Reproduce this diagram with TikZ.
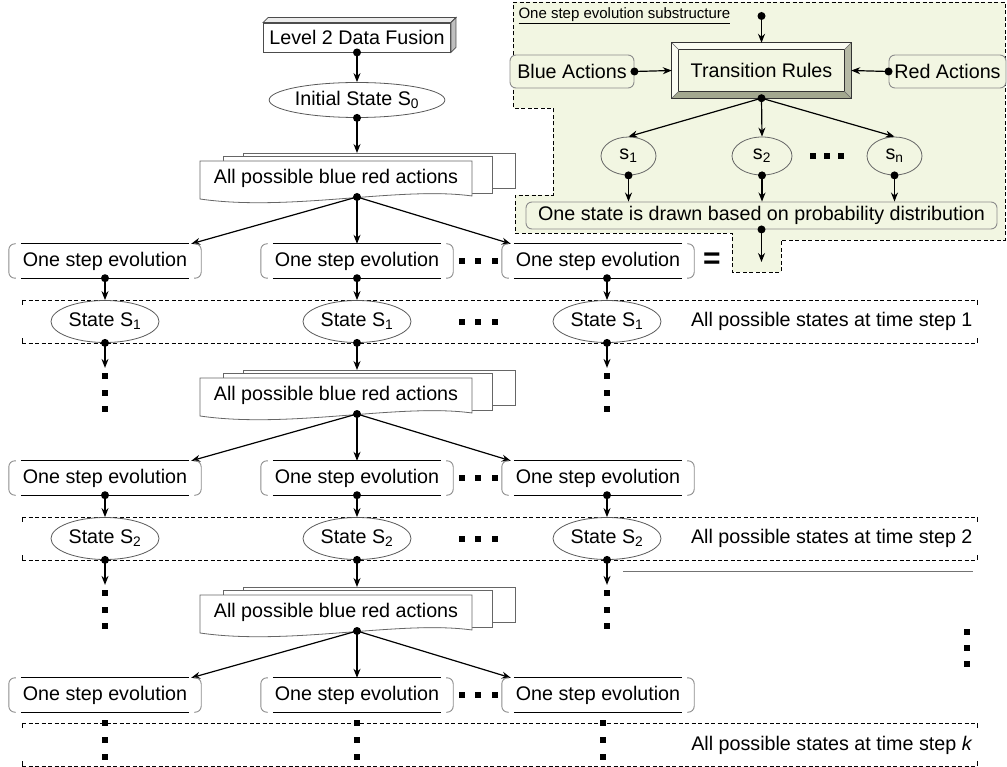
\documentclass[tikz,border=0pt]{standalone}
\usepackage{fontspec}
\setmainfont{Liberation Sans}
\usetikzlibrary{arrows.meta,shapes.geometric,calc}

\definecolor{panelgreen}{HTML}{F2F6E2}
\definecolor{bevellight}{HTML}{FAFCF2}
\definecolor{beveldark}{HTML}{A3A88F}

\newcommand{\sqdot}[2]{\fill (#1-2.6,#2-2.6) rectangle (#1+2.6,#2+2.6);}

\tikzset{
  link/.style={-{Stealth[length=9pt,width=7pt]},line width=1.2pt},
  tail/.style={circle,fill,inner sep=0pt,minimum size=8pt},
  evo/.style={minimum width=192pt,minimum height=34pt,inner sep=0pt},
  bracketline/.style={draw=black!45,line width=0.9pt,rounded corners=6pt},
  evoline/.style={line width=1pt},
  state/.style={ellipse,draw=black!65,line width=0.8pt,minimum width=108pt,minimum height=42pt,inner sep=0pt},
  page/.style={draw=black!60,fill=white,line width=0.8pt},
  rowline/.style={line width=0.7pt,dash pattern=on 4pt off 2.5pt},
  pbox/.style={draw=black!45,fill=panelgreen,rounded corners=6pt,line width=0.9pt,inner sep=0pt},
  pstate/.style={ellipse,draw=black!60,fill=panelgreen,line width=0.8pt,minimum height=38pt,inner sep=0pt},
}

\begin{document}
\begin{tikzpicture}[x=1pt,y=-1pt,font=\fontsize{19.7}{23}\selectfont]
  \useasboundingbox (0,0) rectangle (1007,767);

  % one step evolution substructure
  \filldraw[fill=panelgreen,rowline] (513,2) -- (1005,2) -- (1005,240) -- (781,240)
    -- (781,272) -- (732,272) -- (732,233) -- (515,233) -- (515,195) -- (553,195)
    -- (553,108) -- (513,108) -- cycle;
  \node[anchor=west,font=\fontsize{15}{18}\selectfont] (ptitle) at (515,16)
    {\underline{One step evolution substructure}};
  \node[minimum width=179pt,minimum height=55pt,inner sep=0pt] (rules) at (761.5,70.5) {Transition Rules};
  \fill[bevellight] (rules.north west) -- (rules.north east) -- ($(rules.north east)+(-7,7)$)
    -- ($(rules.north west)+(7,7)$) -- cycle;
  \fill[bevellight] (rules.north west) -- (rules.south west) -- ($(rules.south west)+(7,-7)$)
    -- ($(rules.north west)+(7,7)$) -- cycle;
  \fill[beveldark] (rules.south west) -- (rules.south east) -- ($(rules.south east)+(-7,-7)$)
    -- ($(rules.south west)+(7,-7)$) -- cycle;
  \fill[beveldark!80] (rules.north east) -- (rules.south east) -- ($(rules.south east)+(-7,-7)$)
    -- ($(rules.north east)+(-7,7)$) -- cycle;
  \draw[black!80,line width=0.9pt] (rules.north west) rectangle (rules.south east)
    ($(rules.north west)+(7,7)$) rectangle ($(rules.south east)+(-7,-7)$);
  \draw[black!60,line width=0.6pt] (rules.north west) -- ++(7,7) (rules.north east) -- ++(-7,7)
    (rules.south west) -- ++(7,-7) (rules.south east) -- ++(-7,-7);
  \node[pbox,minimum width=124pt,minimum height=33pt] (blue) at (572,71.5) {Blue Actions};
  \node[pbox,minimum width=117pt,minimum height=33pt] (red) at (947.5,71.5) {Red Actions};
  \node[pstate,minimum width=55pt] (s1) at (628.5,156) {s\textsubscript{1}};
  \node[pstate,minimum width=60pt] (s2) at (762,156) {s\textsubscript{2}};
  \node[pstate,minimum width=55pt] (sn) at (894.5,156) {s\textsubscript{n}};
  \node[pbox,minimum width=471pt,minimum height=27pt] (drawn) at (761.5,215.5)
    {One state is drawn based on probability distribution};
  \coordinate (pout) at (761.5,262);
  \foreach \x in {813,827,841} {\sqdot{\x}{156}}

  \node[tail] (tp) at (761.5,16) {};
  \draw[link] (tp.center) -- (rules.north);
  \node[tail] (tb) at (blue.east) {};
  \draw[link] (tb.center) -- (rules.west);
  \node[tail] (tr) at (red.west) {};
  \draw[link] (tr.center) -- (rules.east);
  \node[tail] (trs) at (rules.south) {};
  \foreach \s in {s1,s2,sn} \draw[link] (trs.center) -- (\s.north);
  \foreach \s in {s1,s2,sn}{
    \node[tail] (t\s) at (\s.south) {};
    \draw[link] (t\s.center) -- (t\s |- drawn.north);
  }
  \node[tail] (td) at (drawn.south) {};
  \draw[link] (td.center) -- (pout);

  % main flow
  \node[draw=black!70,fill=white,line width=0.9pt,minimum width=187pt,minimum height=29pt,
    inner sep=0pt] (fusion) at (357,37.5) {Level 2 Data Fusion};
  \filldraw[fill=black!8,draw=black!70,line width=0.8pt] (fusion.north west) -- ++(5,-5)
    -- ($(fusion.north east)+(5,-5)$) -- (fusion.north east) -- cycle;
  \filldraw[fill=black!25,draw=black!70,line width=0.8pt] (fusion.north east) -- ++(5,-5)
    -- ($(fusion.south east)+(5,-5)$) -- (fusion.south east) -- cycle;
  \node[state,minimum width=174pt,minimum height=35pt] (init) at (357,100) {Initial State S\textsubscript{0}};
  \node[tail] (tf) at (fusion.south) {};
  \draw[link] (tf.center) -- (init);
  \node[tail] (ti) at (init.south) {};

  \foreach \r in {1,2,3}{
    \pgfmathsetmacro{\oy}{(\r-1)*217}
    \filldraw[page] (243,{153+\oy}) rectangle (515,{188+\oy});
    \filldraw[page] (223,{156+\oy}) rectangle (492,{193+\oy});
    \filldraw[page] (200,{161+\oy}) -- (472,{161+\oy}) -- (472,{196+\oy})
      .. controls (400,{186+\oy}) and (290,{212+\oy}) .. (200,{199+\oy}) -- cycle;
    \node[minimum width=272pt,minimum height=37pt,inner sep=0pt] (act\r) at (336,{178+\oy})
      {All possible blue red actions};
    \coordinate (top\r) at (357,{153+\oy});
    \node[tail] (ta\r) at (357,{197+\oy}) {};
    \node[evo] (ea\r) at (105,{261+\oy}) {One step evolution};
    \node[evo] (eb\r) at (357,{261+\oy}) {One step evolution};
    \node[evo] (ec\r) at (598,{261+\oy}) {One step evolution};
    \draw[link] (ta\r.center) -- ($(ea\r.north east)+(-10,0)$);
    \draw[link] (ta\r.center) -- (eb\r.north);
    \draw[link] (ta\r.center) -- ($(ec\r.north west)+(9,0)$);
    \foreach \x in {462,478,495} {\sqdot{\x}{261+\oy}}
  }
  \draw[link] (ti.center) -- (top1);

  \foreach \n in {ea1,eb1,ec1,ea2,eb2,ec2,ea3,eb3,ec3}{
    \draw[bracketline] ($(\n.north west)+(7,0)$) -- (\n.north west) -- (\n.south west)
      -- ($(\n.south west)+(7,0)$);
    \draw[bracketline] ($(\n.north east)+(-7,0)$) -- (\n.north east) -- (\n.south east)
      -- ($(\n.south east)+(-7,0)$);
    \draw[evoline] ($(\n.north west)+(12,0)$) -- ($(\n.north east)+(-12,0)$)
      ($(\n.south west)+(12,0)$) -- ($(\n.south east)+(-12,0)$);
  }
  \node[font=\fontsize{30}{30}\selectfont\bfseries] (eq) at (712,261) {=};

  % states at each time step
  \foreach \r in {1,2}{
    \pgfmathsetmacro{\oy}{(\r-1)*217}
    \pgfmathtruncatemacro{\nx}{\r+1}
    \draw[rowline] (22,{300+\oy}) -- (977,{300+\oy}) (22,{343+\oy}) -- (977,{343+\oy});
    \draw[line width=0.7pt] (22,{300+\oy}) -- ++(0,5) (22,{343+\oy}) -- ++(0,-5)
      (977,{300+\oy}) -- ++(0,5) (977,{343+\oy}) -- ++(0,-5);
    \node[state] (sa\r) at (105,{321.5+\oy}) {State S\textsubscript{\r}};
    \node[state] (sb\r) at (357,{321.5+\oy}) {State S\textsubscript{\r}};
    \node[state] (sc\r) at (607,{321.5+\oy}) {State S\textsubscript{\r}};
    \node[anchor=east] (lbl\r) at (976,{321.5+\oy}) {All possible states at time step \r};
    \foreach \x in {462,478,495} {\sqdot{\x}{322+\oy}}
    \foreach \c in {a,b,c}{
      \node[tail] (u\c\r) at (e\c\r.south -| s\c\r) {};
      \draw[link] (u\c\r.center) -- (s\c\r);
      \node[tail] (v\c\r) at (s\c\r.south) {};
    }
    \draw[link] (vb\r.center) -- (top\nx);
    \foreach \c in {a,c}{
      \coordinate (f\c\r) at ($(s\c\r.south)+(0,25)$);
      \draw[link] (v\c\r.center) -- (f\c\r);
    }
    \foreach \y in {33,50,66} {\sqdot{105}{343+\oy+\y} \sqdot{607}{343+\oy+\y}}
  }
  \draw[black!55,line width=0.9pt] (623,571) -- (973,571);
  \foreach \y in {632,648,664} {\sqdot{967}{\y}}

  % time step k
  \draw[rowline] (22,723) -- (977,723) (22,766) -- (977,766);
  \draw[line width=0.7pt] (22,723) -- ++(0,5) (22,766) -- ++(0,-5)
    (977,723) -- ++(0,5) (977,766) -- ++(0,-5);
  \foreach \x in {105,357,603} {\foreach \y in {723,740,757} {\sqdot{\x}{\y}}}
  \node[anchor=east] (lblk) at (976,745) {All possible states at time step \textit{k}};
\end{tikzpicture}
\end{document}
